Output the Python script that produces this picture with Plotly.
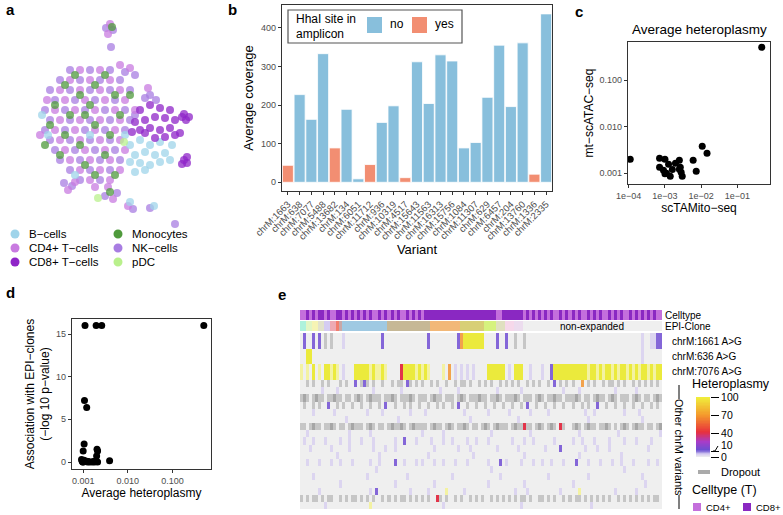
import plotly.graph_objects as go

W, H = 783, 515


def px(x):
    return x / W


def py(y):
    return 1 - y / H


FONT = "Liberation Sans, Arial, sans-serif"
TICK = dict(family=FONT, size=9, color="#4d4d4d")

# ---------------- a: UMAP ----------------
celltypes = ["B−cells", "CD4+ T−cells", "CD8+ T−cells", "Monocytes", "NK−cells", "pDC"]
celltype_colors = ["#9fd4ea", "#c87be0", "#8f25c8", "#4f9a3c", "#a87de2", "#b9f08c"]

umap_nk = [(-3, 6), (-1, 6), (1, 6), (-4, 5), (-2, 5), (0, 5), (2, 5), (-5, 4), (-3, 4), (-1, 4),
           (1, 4), (3, 4), (-4.5, 3), (-2.5, 3), (-0.5, 3), (1.5, 3), (-5.5, 2), (-3.5, 2), (-1.5, 2),
           (0.5, 2), (2.5, 2), (-5, 1), (-3, 1), (-1, 1), (1, 1), (3, 1), (-5.5, 0), (-3.5, 0),
           (-1.5, 0), (0.5, 0), (2.5, 0), (-5, -1), (-3, -1), (-1, -1), (1, -1), (-4.5, -2),
           (-2.5, -2), (-0.5, -2), (1.5, -2), (-4, -3), (-2, -3), (0, -3), (2, -3), (-3, -4),
           (-1, -4), (1, -4), (-2, -5), (0, -5), (3.5, 1.5), (5, 3.5), (5.6, 3), (2.5, 5.8),
           (3.5, 5.5), (0.6, 10.2), (1.3, 10), (-3.6, -5.3), (-2.8, -5.6), (0.5, -6.6), (1.7, -6.3),
           (3.3, -7.9), (5, -7.8), (7.5, -9.4), (4.5, 3.2), (1.1, 8.3)]
umap_cd4 = [(-2, 6), (0, 6), (-3, 5), (-1, 5), (1, 5), (-4, 4), (-2, 4), (0, 4), (2, 4), (-5.3, 3),
            (-3.5, 3), (-1.5, 3), (0.5, 3), (2.5, 3), (-4.5, 2), (-2.5, 2), (-0.5, 2), (1.5, 2),
            (3.5, 2), (-4, 1), (-2, 1), (0, 1), (2, 1), (-4.5, 0), (-2.5, 0), (-0.5, 0), (1.5, 0),
            (-4, -1), (-2, -1), (0, -1), (2, -1), (-3.5, -2), (-1.5, -2), (0.5, -2), (2.5, -2),
            (-3, -3), (-1, -3), (1, -3), (-2, -4), (0, -4), (2, -4), (-1, -5), (1, -5), (-0.5, -5.7),
            (0.8, -5.7), (2, 6.5), (3, 6.2), (4.8, 4.2), (1, 10.6), (0.8, 9.6), (-3.2, -6),
            (-2.5, -5.2), (1.3, -6.9), (2.8, -7.6), (-6, -0.5)]
umap_mono = [(-2.5, 5.5), (0.5, 5.5), (-3.5, 4.5), (-0.5, 4.5), (1.5, 3.5), (-2, 3.5), (-4.5, 2.5),
             (-1, 2.5), (2, 1.5), (-3, 1.5), (-5, 0.5), (-0.5, 0.5), (1, -0.5), (-3.5, -0.5),
             (-2, -1.5), (0.5, -2.5), (-4, -2.5), (-1.5, -3.5), (1.5, -4.5), (-0.5, -4.5),
             (-5.5, -1.5), (3, 3.5), (1.2, 10.3), (1, -6.2), (-1.5, 1.5)]
umap_b = [(3, -1.5), (4, -1), (5, -1.5), (6, -1.2), (3.5, -2.5), (4.5, -2.2), (5.5, -2.5), (6.5, -2.3),
          (3, -3.2), (4, -3.3), (5, -3.5), (6, -3.2), (7, -3), (4.5, -4), (3.5, -4.2), (2.5, -0.5),
          (-5.8, 1.5), (-5.2, -0.5), (-2.5, -4.5), (3, -7.2), (5.4, -7.6), (-1, -0.5), (7.2, -1.5)]
umap_cd8 = [(4, 2), (5, 2.5), (6, 2.2), (7, 2), (4.5, 1), (5.5, 1.3), (6.5, 1.2), (7.5, 1), (4, 0),
            (5, 0.2), (6, 0), (7, 0.2), (5.5, -0.8), (6.5, -0.7), (7.5, -0.5), (3.5, 0.8), (8.2, 1.3),
            (8.6, 1.0), (8.4, 1.6), (8.9, 1.3), (8.4, -3), (8.7, -3.3), (8.2, -3.4), (8.7, -2.7),
            (3.2, -0.2), (4.5, -0.3), (8, -0.3)]
umap_pdc = [(2.4, -1.2), (-0.2, -6.8)]

# ---------------- b: coverage ----------------
variants = ["chrM:1663", "chrM:638", "chrM:7077", "chrM:5488", "chrM:13682", "chrM:134", "chrM:6051",
            "chrM:11712", "chrM:936", "chrM:10319", "chrM:4517", "chrM:15643", "chrM:11563",
            "chrM:16313", "chrM:15756", "chrM:1084", "chrM:11307", "chrM:629", "chrM:6457",
            "chrM:204", "chrM:13760", "chrM:1336", "chrM:2335"]
coverage = [44, 227, 163, 333, 89, 189, 9, 46, 155, 198, 12, 312, 204, 330, 314, 89, 103, 220, 355,
            196, 361, 21, 436]
hhai_site = ["yes", "no", "no", "no", "yes", "no", "no", "yes", "no", "no", "yes", "no", "no", "no",
             "no", "no", "no", "no", "no", "no", "no", "yes", "no"]
hhai_groups = ["no", "yes"]
hhai_colors = ["#88bfdc", "#f28e72"]

# ---------------- c: heteroplasmy comparison ----------------
tamito_het = [1.1e-4, 7.1e-4, 1.0e-3, 1.26e-3, 7.1e-4, 9.1e-4, 1.1e-3, 1.4e-3, 1.95e-3, 2.5e-3,
              2.65e-3, 2.8e-3, 3.0e-3, 2.5e-3, 6.0e-3, 7.3e-3, 1.07e-2, 1.45e-2, 0.47, 1.0e-3, 1.6e-3]
atac_het = [0.0020, 0.0021, 0.0020, 0.00156, 0.00135, 0.00116, 0.0010, 0.00086, 0.00164, 0.0019,
            0.00135, 0.00105, 0.00086, 0.00122, 0.0019, 0.0011, 0.0038, 0.0027, 0.51, 0.00098, 0.0012]

# ---------------- d: association ----------------
avg_het = [0.0011, 0.00195, 0.0026, 0.50, 0.00107, 0.0012, 0.00105, 0.0010, 0.00204, 0.0021, 0.0020,
           0.0039, 0.00092, 0.00095, 0.0010, 0.00105, 0.0011, 0.0012, 0.00125, 0.0013, 0.0014,
           0.0016, 0.0017, 0.0018, 0.0019, 0.0021, 0.00098]
assoc_logp = [16, 16, 16, 16, 7.2, 6.4, 2.1, 1.3, 1.5, 1.3, 0.7, 0.15, 0.3, 0.1, 0.0, 0.2, 0.05, 0.1,
              0.0, 0.05, 0.0, 0.0, 0.05, 0.0, 0.1, 0.0, 0.0]

# ---------------- e: heatmap ----------------
celltype_track = ("4484848848 4488484848 4848448484 8484484848 4888888888 8888888888 "
                  "8888844888 8888484848 4848448484 8484484848 4484848448 4848484844")
epi_clone_sizes = [2, 2, 2, 2, 2, 2, 1, 1, 15, 14, 10, 8, 4, 3, 3, 3, 46]
epi_clone_colors = ["#aef2dc", "#e2f6c4", "#f6f4b4", "#e2e2cc", "#d4ccf2", "#eeaab4", "#f27e6e",
                    "#c8a8a8", "#9fc9e2", "#c6b896", "#f2b878", "#d8cf76", "#d6f27e", "#e0e0c0",
                    "#f6d8ea", "#ecdcee", "#efefef"]
named_variants = ["chrM:1661 A>G", "chrM:636 A>G", "chrM:7076 A>G"]
# '.' 0 | 'l' low | 'p' ~10 | 'r' ~40 | 'o' ~70 | 'Y' partial high | 'y' ~100 | 'g'/'G' dropout
named_rows = [
    ".p..p.p.g. g...l..... .......p.. .......... ..p....... ..poyyyyyy y....p..p. .g..g..... "
    ".......... .......... .......... ...l..llpp",
    "..yy...... .......... .......... .......... .......... .......... .......... .......... "
    ".......... .......... .......... ...l......",
    "Y.Y.y.Y.yy YyY.l...yy yyyYyYYyY. ...ryyyyYy YyY....Y.o .l.l.l.l.. ..yyyyyy.l .yyy..l... "
    "l..pyyyyyy yyyyyYyyYy YyyYyYyyYy YyYyyYyYyy",
]
other_rows = [
    "..g.g..g.g ...g.g..p. gpg.g..g.. g.gg.pg.g. g..g.g..g. .g.gg.g..g .g.g..g.g. g.g..g.g.g ..g.p.g.g. g..o.g.g.. g.gg.g.g.. g.g.g.g.g.",
    ".......l.. ..l....... ....l..... ...l...... ......l... ..l....... .....l.... ...l...... .......l.. ..l....... ....l..... .l........",
    "gGg.gGgg.g gGgg.gg.gG g.gGggg.gg Gg.gggGg.g gg.gGgg.gg g.gGg.gggG gg.ggGg.gg gGg.ggg.gG g.ggGgg.gg gGg.gg.gGg g.gGg.ggg. gGg.gg.gGg",
    ".g..g.g..p ..g.g..g.. g..g..g.p. .g..g.g..g ..g..g.g.. g.p..g..g. .g..g..g.. g..g.p..g. .g..g..g.. g..g.g..p. .g..g..g.. g..g..g.g.",
    "....l..... .l........ ..l....l.. ......l... .l........ ....l..... ..l......l ......l... ..l....... ....l..l.. .......l.. ..l.......",
    ".......... .....l.... .......... ..l....... .......... ......l... .......... ..l....... .......... .....l.... .......... ...l......",
    "gg.gGgg.gg Gg.gg.gGgg g.gGg.gg.g GggGg.gGgg gg.gGgg.gG g.ggGg.gg. gGg.gGggg. gGggrgg.gG g.gGg.rg.. gGg.gGgg.g gGg.g.gGg. gGgg.gg.gG",
    "..l....... ......l... ...l...... .......... l......l.. .......... ...l...... ......l... .......... ..l....... .....l.... .........l",
    ".l..l...l. ...l..l... l...l..... .l..p...l. ...l...l.. l....l..l. ..l....... l...l..l.. ....l..... l..l...l.. ..l....l.. .l....l...",
    "...l...... l.....l... ....l...l. .l........ ....l..... ..l...l... .....l.... ..l....... .l....p... ....l...l. ..l....... .....l....",
    ".......... ..l....... ......l... .......... ..l....... .......l.. .......... ....l..... .......... ..l....... ......l... ..........",
    "..l...l... l..l...l.. ...l..l... .p..l...l. l...l..l.. .l...l.... ..l...p.l. ...l...l.. l..l...l.. .p...l...l ...l..l... l....l..l.",
    ".......... .......... .....l.... .......... .......... .......... ...l...... .......... .......... .......... .......l.. ..........",
    "....l..... .......... ..l....... .....l.... .......... l......... ......l... .......... ..l....... .....l.... .......... ...l......",
    ".......... ...l...... .......... .l........ ....l..... .......... ..l....... ....l..... .......... l......... .......... ....l.....",
    "......l... .......... ...l.p.... ......l... ..l.....Y. ....l..... .......... .l...l.... ......l... ..Y....... ....l..... .l........",
    "g.g.gg.g.g g..g.g.gg. g.g.g..g.g .g.gg.g.g. g.g..rg.g. .g.g..g.g. g..g.g.g.g .g.gg.g..g g.g.g..g.g .gg.g.g.g. g.g..g.g.g .g.g.g.gg.",
    "........l. .......... ...Y...... .......... .......l.. .......... .......... ...l...... .......... ......l... .......... ..........",
]
cell_codes = ".lproYygG"
cell_colors = ["#efefef", "#dcd5f0", "#8466d8", "#e2354a", "#f2a24c", "#f3f2a2", "#ebea3c",
               "#c6c6c6", "#a6a6a6"]
het_legend_ticks = [0, 10, 40, 70, 100]
het_scale = [[0, "#eeeeee"], [0.05, "#d9d0f2"], [0.12, "#6a4fd2"], [0.26, "#a83cc8"],
             [0.42, "#e8303c"], [0.7, "#f49a2c"], [1.0, "#f0f03c"]]
cd_labels = ["CD4+", "CD8+"]
cd_colors = ["#c46fdc", "#8a28c2"]

NCOL = 120


def clean(s):
    return s.replace(" ", "").ljust(NCOL, ".")[:NCOL]


def discrete(colors):
    n = len(colors)
    sc = []
    for i, c in enumerate(colors):
        sc.append([i / n, c])
        sc.append([(i + 1) / n, c])
    return sc


def note(text, x, y, size, xanchor="left", **kw):
    return dict(text=text, x=px(x), y=py(y), xref="paper", yref="paper", showarrow=False,
                xanchor=xanchor, yanchor="middle", font=dict(family=FONT, size=size), **kw)


def prect(x0, x1, y0, y1, fill, line=None):
    return dict(type="rect", xref="paper", yref="paper", x0=px(x0), x1=px(x1), y0=py(y1), y1=py(y0),
                fillcolor=fill, line=line or dict(width=0))


fig = go.Figure()

# a
umap_sets = {"NK−cells": umap_nk, "CD4+ T−cells": umap_cd4, "Monocytes": umap_mono,
             "B−cells": umap_b, "CD8+ T−cells": umap_cd8, "pDC": umap_pdc}
for name, pts in umap_sets.items():
    col = celltype_colors[celltypes.index(name)]
    fig.add_trace(go.Scatter(x=[p[0] for p in pts], y=[p[1] for p in pts], mode="markers", name=name,
                             marker=dict(size=8, color=col, opacity=0.75), showlegend=False,
                             hoverinfo="skip", xaxis="x", yaxis="y"))

# b
for grp, col in zip(hhai_groups, hhai_colors):
    xs = [v for v, h in zip(variants, hhai_site) if h == grp]
    ys = [c for c, h in zip(coverage, hhai_site) if h == grp]
    fig.add_trace(go.Bar(x=xs, y=ys, name=grp, showlegend=False,
                         marker=dict(color=col, line=dict(color="white", width=0.8)),
                         xaxis="x2", yaxis="y2"))

# c
fig.add_trace(go.Scatter(x=tamito_het, y=atac_het, mode="markers", marker=dict(size=7, color="black"),
                         showlegend=False, xaxis="x3", yaxis="y3"))
# d
fig.add_trace(go.Scatter(x=avg_het, y=assoc_logp, mode="markers", marker=dict(size=7, color="black"),
                         showlegend=False, xaxis="x4", yaxis="y4"))

# e: celltype track
ct = clean(celltype_track)
fig.add_trace(go.Heatmap(z=[[0 if ch == "4" else 1 for ch in ct]], zmin=-0.5, zmax=1.5,
                         colorscale=discrete(cd_colors), showscale=False, hoverinfo="skip",
                         xaxis="x5", yaxis="y5"))
# e: EPI-clone track
clone_z = []
for i, n in enumerate(epi_clone_sizes):
    clone_z += [i] * n
fig.add_trace(go.Heatmap(z=[clone_z], zmin=-0.5, zmax=len(epi_clone_colors) - 0.5,
                         colorscale=discrete(epi_clone_colors), showscale=False, hoverinfo="skip",
                         xaxis="x6", yaxis="y6"))
# e: variant rows
rows = [clean(r) for r in named_rows + other_rows]
z_main = [[cell_codes.index(ch) for ch in r] for r in rows]
edges = [0.0]
for i in range(len(rows)):
    edges.append(edges[-1] + (15.7 if i < len(named_rows) else 128.9 / len(other_rows)))
fig.add_trace(go.Heatmap(z=z_main, x=list(range(NCOL)), y=edges, zmin=-0.5,
                         zmax=len(cell_colors) - 0.5, colorscale=discrete(cell_colors),
                         showscale=False, hoverinfo="skip", xaxis="x7", yaxis="y7"))
# e: heteroplasmy legend bar
levels = list(range(0, 101))
fig.add_trace(go.Heatmap(z=[[v] for v in levels], y=levels, x=[0], colorscale=het_scale, zmin=0,
                         zmax=100, showscale=False, hoverinfo="skip", xaxis="x8", yaxis="y8"))

box = dict(showline=True, mirror=True, linecolor="#333", linewidth=1.2, ticks="outside", ticklen=3,
           tickcolor="#333", showgrid=False, zeroline=False, tickfont=TICK, automargin=False)
hidden = dict(visible=False, showgrid=False, zeroline=False, automargin=False)
title_font = dict(family=FONT, size=12, color="black")
box2 = dict(box, tickfont=dict(family=FONT, size=9.5, color="#4d4d4d"))

fig.update_layout(
    template="none",
    width=W, height=H, margin=dict(l=0, r=0, t=0, b=0, autoexpand=False),
    paper_bgcolor="white", plot_bgcolor="white",
    font=dict(family=FONT, color="black"), barmode="overlay", bargap=0.06, showlegend=False,
    xaxis=dict(domain=[px(15), px(200)], range=[-8.5, 10], anchor="y", **hidden),
    yaxis=dict(domain=[py(228), py(20)], range=[-9.8, 11], anchor="x", **hidden),
    xaxis2=dict(domain=[px(282), px(552)], anchor="y2", type="category", categoryorder="array",
                categoryarray=variants, range=[-0.5, len(variants) - 0.5], tickangle=-45,
                tickmode="array", tickvals=variants,
                title=dict(text="Variant", font=dict(family=FONT, size=13), standoff=0), **box2),
    yaxis2=dict(domain=[py(191), py(5)], anchor="x2", range=[-22.5, 459], tickvals=[0, 100, 200, 300, 400],
                title=dict(text="Average coverage", font=dict(family=FONT, size=13), standoff=4), **box),
    xaxis3=dict(domain=[px(628), px(770)], anchor="y3", type="log", range=[-4.02, -0.10],
                tickvals=[1e-4, 1e-3, 1e-2, 1e-1], ticktext=["1e−04", "1e−03", "1e−02", "1e−01"],
                title=dict(text="scTAMito−seq", font=title_font, standoff=2), **box),
    yaxis3=dict(domain=[py(184), py(42)], anchor="x3", type="log", range=[-3.23, -0.18],
                tickvals=[1e-3, 1e-2, 1e-1], ticktext=["0.001", "0.010", "0.100"],
                title=dict(text="mt−scATAC−seq", font=title_font, standoff=3), **box),
    xaxis4=dict(domain=[px(72), px(211)], anchor="y4", type="log", range=[-3.25, -0.14],
                tickvals=[1e-3, 1e-2, 1e-1], ticktext=["0.001", "0.010", "0.100"],
                title=dict(text="Average heteroplasmy", font=title_font, standoff=2), **box),
    yaxis4=dict(domain=[py(469), py(319)], anchor="x4", range=[-0.82, 16.76], tickvals=[0, 5, 10, 15],
                title=dict(text="Association with EPI−clones<br>(−log 10 p−value)", font=title_font,
                           standoff=3), **box),
    xaxis5=dict(domain=[px(300), px(662)], anchor="y5", range=[-0.5, NCOL - 0.5], **hidden),
    yaxis5=dict(domain=[py(320), py(310)], anchor="x5", **hidden),
    xaxis6=dict(domain=[px(300), px(662)], anchor="y6", range=[-0.5, NCOL - 0.5], **hidden),
    yaxis6=dict(domain=[py(331), py(321)], anchor="x6", **hidden),
    xaxis7=dict(domain=[px(300), px(662)], anchor="y7", range=[-0.5, NCOL - 0.5], **hidden),
    yaxis7=dict(domain=[py(509), py(333)], anchor="x7", range=[edges[-1], 0], **hidden),
    xaxis8=dict(domain=[px(696), px(710)], anchor="y8", range=[-0.5, 0.5], **hidden),
    yaxis8=dict(domain=[py(457), py(397)], anchor="x8", range=[0, 100], side="right",
                tickvals=het_legend_ticks, ticktext=["0", "", "40", "70", "100"], ticks="outside",
                ticklen=8, tickcolor="black", showgrid=False, zeroline=False, showline=False,
                automargin=False, tickfont=dict(family=FONT, size=10.5, color="black")),
)

ann = []
shapes = []
for lab, x, y in [("a", 4, 10), ("b", 226, 10), ("c", 573, 12), ("d", 4, 292), ("e", 276, 294)]:
    ann.append(note("<b>%s</b>" % lab, x, y, 15))

# a: legend (two columns)
for i, (name, col) in enumerate(zip(celltypes, celltype_colors)):
    cx = 15 if i < 3 else 118
    cy = 234 + 14 * (i % 3)
    shapes.append(dict(type="circle", xref="paper", yref="paper", x0=px(cx - 4.5), x1=px(cx + 4.5),
                       y0=py(cy + 4.5), y1=py(cy - 4.5), fillcolor=col, line=dict(width=0)))
    ann.append(note(name, cx + 12, cy, 11.5))

# b: legend box
shapes.append(prect(288, 462, 10, 43, "white", dict(color="#555", width=1.2)))
ann.append(note("HhaI site in", 294, 19, 12))
ann.append(note("amplicon", 294, 34, 12))
for grp, col, x0 in zip(hhai_groups, hhai_colors, [367, 412]):
    shapes.append(prect(x0, x0 + 15, 17, 33, col))
    ann.append(note(grp, x0 + 21, 24, 12))

ann.append(note("Average heteroplasmy", 699, 30, 13.5, xanchor="center"))
for lab, y in [("Celltype", 315), ("EPI-Clone", 326)]:
    ann.append(note(lab, 663, y, 10))
for lab, y in zip(named_variants, [341, 356, 371]):
    ann.append(note(lab, 670, y, 10))
ann.append(note("non-expanded", 592, 326, 10, xanchor="center"))
ann.append(note("Heteroplasmy", 690, 384, 12.5))
ann.append(note("10", 719, 445, 10.5))
ann.append(note("Dropout", 719, 472, 11))
ann.append(note("Other chrM variants", 679, 447, 11, xanchor="center", textangle=90))
ann.append(note("Celltype (T)", 690, 490, 12.5))
for lab, col, x0 in zip(cd_labels, cd_colors, [693, 743]):
    shapes.append(prect(x0, x0 + 8, 503, 511, col))
    ann.append(note(lab, x0 + 11, 507, 9.5))

shapes += [
    prect(698, 710, 470, 474, "#aaaaaa"),
    dict(type="path", xref="paper", yref="paper",
         path="M %f,%f L %f,%f L %f,%f" % (px(713), py(451), px(715), py(451), px(718), py(446)),
         line=dict(color="black", width=1)),
    dict(type="line", xref="paper", yref="paper", x0=px(679), x1=px(679), y0=py(385), y1=py(399),
         line=dict(color="black", width=1)),
    dict(type="line", xref="paper", yref="paper", x0=px(679), x1=px(679), y0=py(495), y1=py(509),
         line=dict(color="black", width=1)),
]
fig.update_layout(annotations=ann, shapes=shapes)

fig.write_html("out.html", config={"displayModeBar": False},
               post_script="document.body.style.margin='0';")
